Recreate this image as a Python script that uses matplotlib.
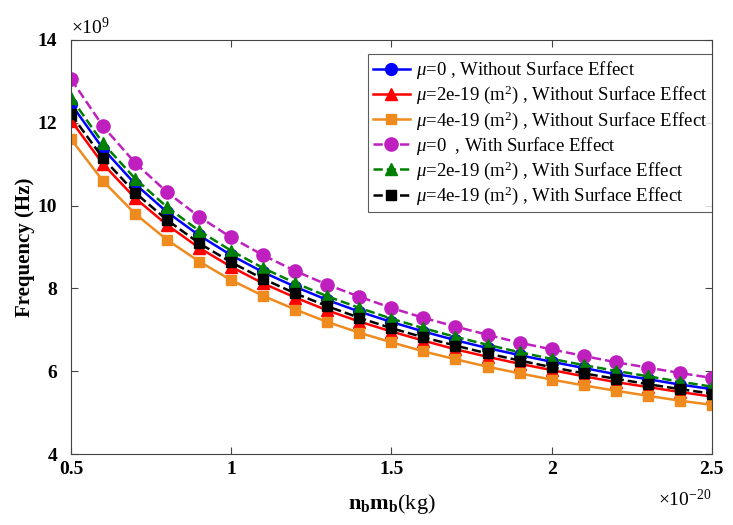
import matplotlib

matplotlib.use("Agg")
import matplotlib.pyplot as plt

# x in units of 1e-20 kg, y in units of 1e9 Hz
nbmb = [0.5, 0.6, 0.7, 0.8, 0.9, 1.0, 1.1, 1.2, 1.3, 1.4, 1.5,
        1.6, 1.7, 1.8, 1.9, 2.0, 2.1, 2.2, 2.3, 2.4, 2.5]

f_mu0_wo = [12.45, 11.37, 10.52, 9.84, 9.28, 8.80, 8.39, 8.04, 7.72, 7.44, 7.19,
            6.96, 6.75, 6.56, 6.39, 6.23, 6.08, 5.93, 5.81, 5.68, 5.57]
f_mu2_wo = [12.05, 11.00, 10.18, 9.53, 8.98, 8.52, 8.12, 7.78, 7.47, 7.20, 6.96,
            6.74, 6.53, 6.35, 6.18, 6.03, 5.88, 5.74, 5.62, 5.50, 5.39]
f_mu4_wo = [11.60, 10.59, 9.80, 9.17, 8.65, 8.20, 7.82, 7.49, 7.19, 6.93, 6.70,
            6.48, 6.29, 6.11, 5.95, 5.80, 5.66, 5.53, 5.41, 5.29, 5.19]
f_mu0_w = [13.05, 11.91, 11.03, 10.32, 9.73, 9.23, 8.80, 8.42, 8.09, 7.80, 7.53,
           7.29, 7.08, 6.88, 6.69, 6.53, 6.37, 6.22, 6.09, 5.96, 5.84]
f_mu2_w = [12.60, 11.50, 10.65, 9.96, 9.39, 8.91, 8.49, 8.13, 7.81, 7.53, 7.27,
           7.04, 6.83, 6.64, 6.46, 6.30, 6.15, 6.01, 5.88, 5.75, 5.63]
f_mu4_w = [12.20, 11.14, 10.31, 9.65, 9.09, 8.63, 8.23, 7.88, 7.57, 7.29, 7.04,
           6.82, 6.62, 6.43, 6.26, 6.10, 5.95, 5.82, 5.69, 5.57, 5.46]

labels = [
    r"$\mu$=0 , Without Surface Effect",
    r"$\mu$=2e-19 (m$^2$) , Without Surface Effect",
    r"$\mu$=4e-19 (m$^2$) , Without Surface Effect",
    r"$\mu$=0  , With Surface Effect",
    r"$\mu$=2e-19 (m$^2$) , With Surface Effect",
    r"$\mu$=4e-19 (m$^2$) , With Surface Effect",
]

plt.rcParams["font.family"] = ["Liberation Serif", "DejaVu Serif"]
plt.rcParams["mathtext.fontset"] = "custom"
plt.rcParams["mathtext.rm"] = "Liberation Serif"
plt.rcParams["mathtext.it"] = "Liberation Serif:italic"
plt.rcParams["mathtext.bf"] = "Liberation Serif:bold"

fig = plt.figure(figsize=(7.33, 5.25), dpi=100)
ax = fig.add_axes([0.097, 0.135, 0.874, 0.789])

ax.plot(nbmb, f_mu0_wo, "-o", color="#0000ff", lw=1.8, ms=8.5, label=labels[0])
ax.plot(nbmb, f_mu2_wo, "-^", color="#ff0000", lw=1.8, ms=8.5, label=labels[1])
ax.plot(nbmb, f_mu4_wo, "-s", color="#ee8a1e", lw=1.8, ms=7.5, label=labels[2])
ax.plot(nbmb, f_mu0_w, "--o", color="#bf1fbf", lw=1.8, ms=9.5, label=labels[3])
ax.plot(nbmb, f_mu2_w, "--^", color="#008000", lw=1.8, ms=8.5, label=labels[4])
ax.plot(nbmb, f_mu4_w, "--s", color="#000000", lw=1.8, ms=7.5, label=labels[5])

ax.set_xlim(0.5, 2.5)
ax.set_ylim(4, 14)
ax.set_xticks([0.5, 1, 1.5, 2, 2.5])
ax.set_xticklabels(["0.5", "1", "1.5", "2", "2.5"])
ax.set_yticks([4, 6, 8, 10, 12, 14])
ax.tick_params(direction="in", top=True, right=True, labelsize=14, colors="#444444",
               labelcolor="black", length=5)
ax.tick_params(axis="x", pad=5)
ax.tick_params(axis="y", pad=10)
for lab in ax.get_xticklabels() + ax.get_yticklabels():
    lab.set_fontweight("bold")
for sp in ax.spines.values():
    sp.set_color("#444444")

ax.set_ylabel("Frequency (Hz)", fontsize=15, fontweight="bold", labelpad=2)
ax.set_xlabel(r"$\mathbf{n_b m_b}$(kg)", fontsize=16, labelpad=10)
ax.text(0.0, 1.005, r"$\times10^{9}$", transform=ax.transAxes, fontsize=14,
        ha="left", va="bottom")
ax.text(1.0, -0.085, r"$\times10^{-20}$", transform=ax.transAxes, fontsize=14,
        ha="right", va="top")

leg = ax.legend(loc="upper right", bbox_to_anchor=(1.0, 0.965), fontsize=13.5,
                frameon=True, fancybox=False, edgecolor="#333333", borderaxespad=0.0,
                handlelength=2.0, handletextpad=0.3, labelspacing=0.15, borderpad=0.25)
leg.get_frame().set_linewidth(0.8)

fig.savefig("out.png", dpi=100)
